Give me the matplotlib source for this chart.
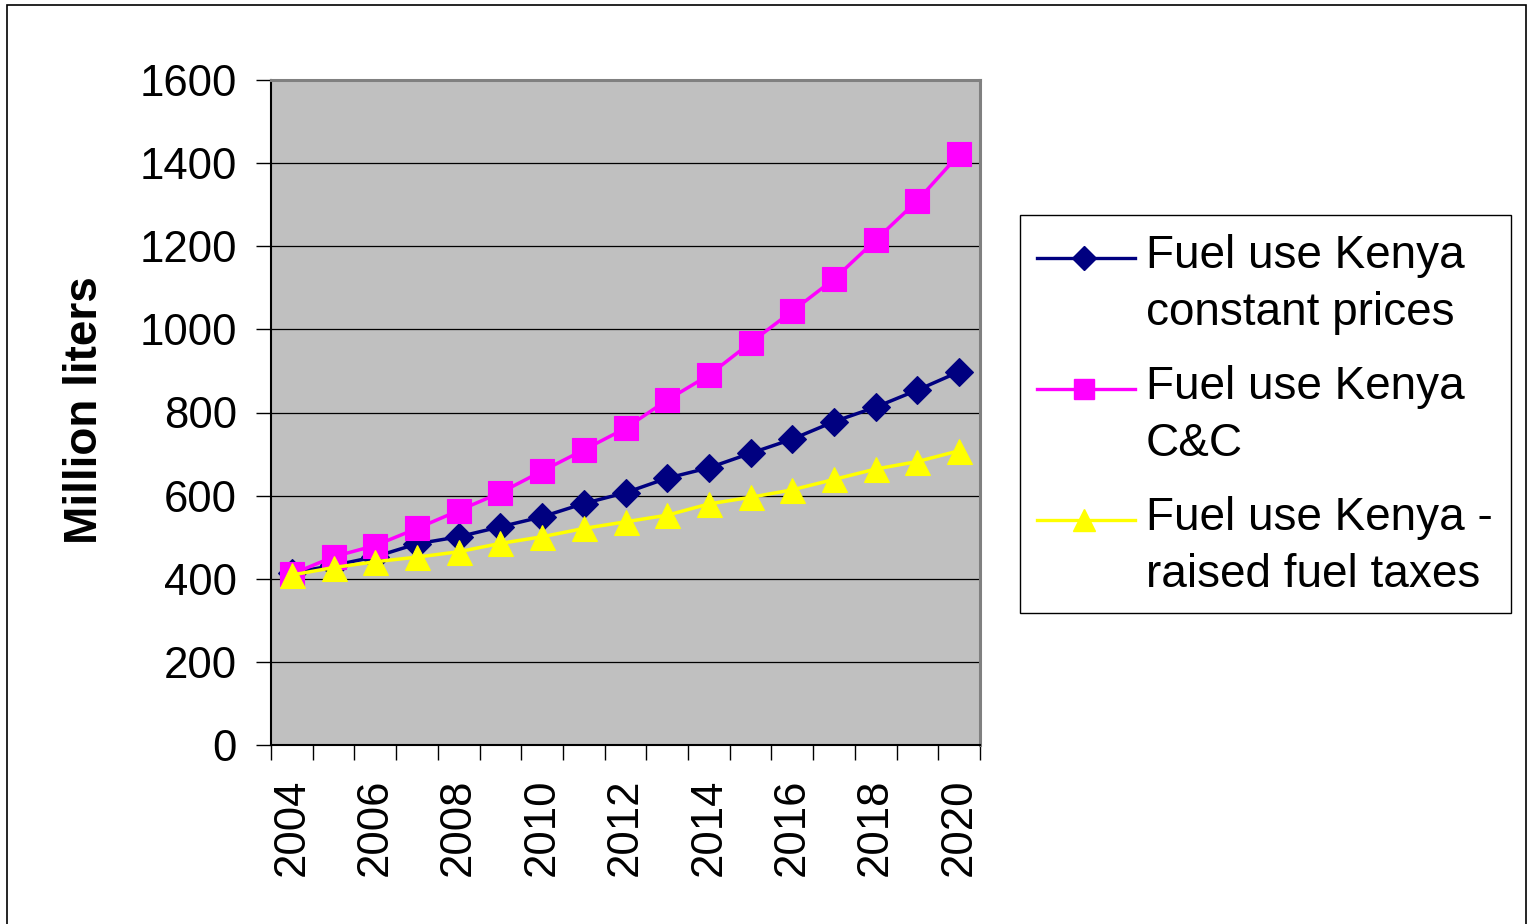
import matplotlib.pyplot as plt
from matplotlib.lines import Line2D
from matplotlib.patches import Rectangle

# Fuel use projections for Kenya, million liters per year
years = list(range(2004, 2021))
constant_prices = [414, 432, 453, 484, 501, 525, 549, 581, 607, 642, 667, 702, 736, 778, 813, 854, 898]
c_and_c = [411, 453, 480, 521, 564, 607, 659, 710, 762, 830, 890, 968, 1044, 1121, 1215, 1310, 1421]
raised_taxes = [409, 427, 441, 452, 465, 485, 501, 521, 537, 553, 580, 596, 614, 639, 664, 682, 708]

labels = ['Fuel use Kenya\nconstant prices', 'Fuel use Kenya\nC&C', 'Fuel use Kenya -\nraised fuel taxes']
colors = ['#000080', '#FF00FF', '#FFFF00']
markers = ['D', 's', '^']
msizes = [14.5, 17.5, 18]

plt.rcParams['font.family'] = ['Liberation Sans', 'DejaVu Sans']

W, H = 1527, 924
fig = plt.figure(figsize=(W / 100, H / 100), dpi=100)


def px(x, y):
    # pixel position (from top-left) to figure fraction
    return x / W, 1 - y / H


# outer chart frame
fig.add_artist(Rectangle(px(7, 935), (1526 - 7) / W, (935 - 5) / H,
                         transform=fig.transFigure, fill=False,
                         edgecolor='black', linewidth=1.2))

x0, y0 = px(271, 745)
ax = fig.add_axes([x0, y0, (980 - 271) / W, (745 - 80) / H])
ax.set_facecolor('#C0C0C0')

idx = list(range(len(years)))
for vals, c, m, ms in zip([constant_prices, c_and_c, raised_taxes], colors, markers, msizes):
    ax.plot(idx, vals, color=c, linewidth=2.5, marker=m, markersize=ms,
            markeredgecolor=c, markeredgewidth=0.8, zorder=3)

ax.set_xlim(-0.5, len(years) - 0.5)
ax.set_ylim(0, 1600)
ax.set_yticks(range(0, 1601, 200))
ax.yaxis.grid(True, color='black', linewidth=0.9)
ax.set_axisbelow(True)

# category axis: boundary ticks, labels every second year
ax.set_xticks(idx[::2])
ax.set_xticklabels([str(y) for y in years[::2]], rotation=90)
ax.set_xticks([i - 0.5 for i in range(len(years) + 1)], minor=True)
ax.tick_params(axis='x', which='major', length=0, pad=24, labelsize=31.5)
ax.tick_params(axis='x', which='minor', length=10.5, width=1, direction='out')
ax.tick_params(axis='y', length=10.5, width=1, pad=14, labelsize=31.5, direction='out')

for side in ['top', 'right']:
    ax.spines[side].set_color('#808080')
    ax.spines[side].set_linewidth(2.2)
for side in ['left', 'bottom']:
    ax.spines[side].set_color('black')
    ax.spines[side].set_linewidth(1.5)

fig.text(*px(85, 410), 'Million liters', rotation=90, ha='center', va='center',
         fontsize=33, fontweight='bold')

# legend box
lx0, ly0 = px(1020, 613)
fig.add_artist(Rectangle((lx0, ly0), (1511 - 1020) / W, (613 - 215) / H,
                         transform=fig.transFigure, facecolor='white',
                         edgecolor='black', linewidth=1))
for k, (lab, c, m, ms) in enumerate(zip(labels, colors, markers, msizes)):
    yc = 258 + k * 131
    fig.add_artist(Line2D([1037 / W, 1135 / W], [1 - yc / H, 1 - yc / H],
                          transform=fig.transFigure, color=c, linewidth=2.4))
    fig.add_artist(Line2D([1084 / W], [1 - yc / H], transform=fig.transFigure,
                          color=c, marker=m, markersize=ms * 0.85,
                          markeredgecolor=c))
    fig.text(*px(1146, yc - 24), lab, ha='left', va='top', fontsize=33,
             linespacing=1.38)

fig.savefig('out.png', dpi=100)
